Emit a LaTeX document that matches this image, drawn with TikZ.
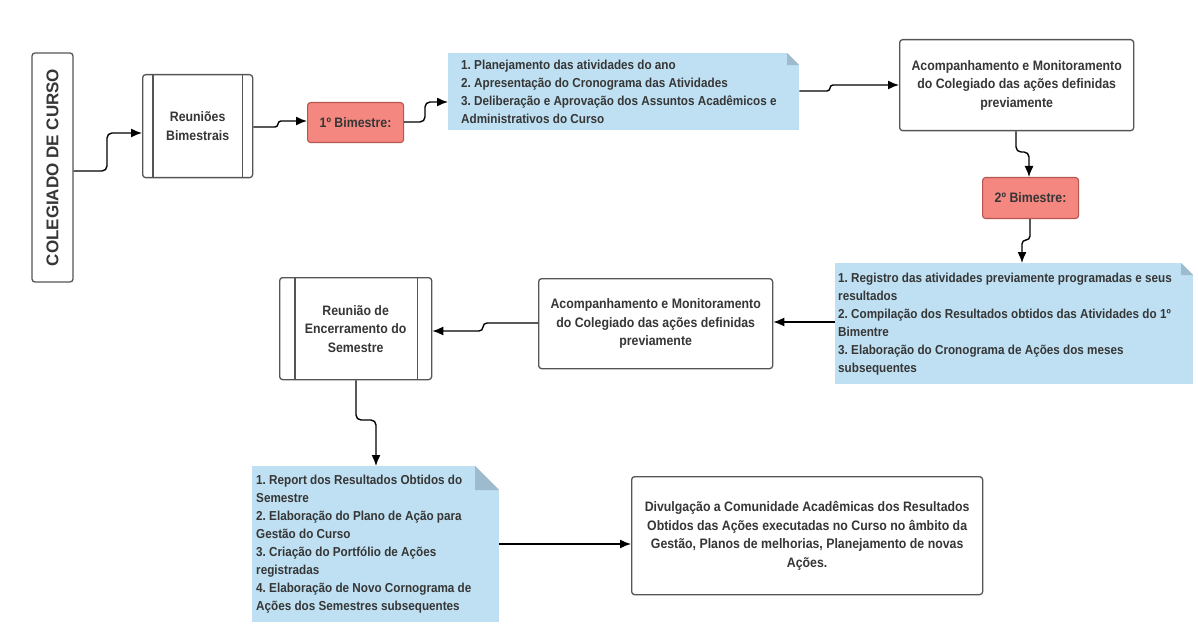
\documentclass[tikz,border=0pt]{standalone}
\usepackage{fontspec}
\setmainfont{Liberation Sans}[FakeStretch=0.9]
\newfontfamily\colfont{Liberation Sans}
\usepackage{tikz}
\usetikzlibrary{arrows.meta}
\usetikzlibrary{calc}
\usetikzlibrary{positioning}
\frenchspacing

\definecolor{notefill}{HTML}{BEE0F2}
\definecolor{foldfill}{HTML}{9DBBCC}
\definecolor{bimfill}{HTML}{F4877F}
\definecolor{bimline}{HTML}{B5564F}
\definecolor{boxline}{HTML}{555555}
\definecolor{txt}{HTML}{363636}

\begin{document}
\begin{tikzpicture}[
  x=1pt, y=-1pt,
  > = {Latex[length=11pt,width=9pt]},
  every node/.style = {font=\fontsize{13}{18}\selectfont\bfseries, text=txt, inner sep=0pt},
  proc/.style = {draw=boxline, line width=1.3pt, rounded corners=3pt, fill=white, align=center, anchor=north west,
    font=\fontsize{13.7}{18.5}\selectfont\bfseries},
  bim/.style = {draw=bimline, line width=1.1pt, rounded corners=3pt, fill=bimfill, align=center, anchor=north west,
    font=\fontsize{13.7}{18.5}\selectfont\bfseries},
  note/.style = {fill=notefill, align=flush left, anchor=north west,
    path picture={
      \fill[white] ([xshift=-#1]path picture bounding box.north east) -- (path picture bounding box.north east)
        -- ([yshift=-#1]path picture bounding box.north east) -- cycle;
      \fill[foldfill] ([xshift=-#1]path picture bounding box.north east) |- ([yshift=-#1]path picture bounding box.north east) -- cycle;}},
  note/.default = 12pt,
  flow/.style = {->, line width=1.4pt, rounded corners=5pt}
  ]
	\useasboundingbox (0,0) rectangle (1198,644);

	% first row
	\node[proc, anchor=center, rotate=90, minimum width=229, minimum height=41] (col) at (52.5,167.5)
		{\colfont\fontsize{17}{20}\selectfont\bfseries COLEGIADO DE CURSO};
	\node[proc, minimum width=110, minimum height=103] (reu) at (142,74) {Reuniões\\Bimestrais};
	\node[bim, minimum width=96, minimum height=40] (bim1) at (307,102) {1º Bimestre:};
	\node[note, inner xsep=13pt, text width=325pt, minimum height=77] (n1) at (448,53)
		{1. Planejamento das atividades do ano\\
		2. Apresentação do Cronograma das Atividades\\
		3. Deliberação e Aprovação dos Assuntos Acadêmicos e\\
		Administrativos do Curso};
	\node[proc, minimum width=234, minimum height=91] (ac1) at (899,39)
		{Acompanhamento e Monitoramento\\do Colegiado das ações definidas\\previamente};

	% right column
	\node[bim, minimum width=96, minimum height=41] (bim2) at (982,177) {2º Bimestre:};
	\node[note, inner xsep=3pt, text width=352pt, minimum height=121] (n2) at (835,263)
		{1. Registro das atividades previamente programadas e seus\\
		resultados\\
		2. Compilação dos Resultados obtidos das Atividades do 1º\\
		Bimentre\\
		3. Elaboração do Cronograma de Ações dos meses\\
		subsequentes};

	% second row
	\node[proc, minimum width=234, minimum height=90] (ac2) at (538,278)
		{Acompanhamento e Monitoramento\\do Colegiado das ações definidas\\previamente};
	\node[proc, minimum width=152, minimum height=102] (reu2) at (279,277)
		{Reunião de\\Encerramento do\\Semestre};

	% last row
	\node[note=24pt, inner xsep=4pt, text width=239pt, minimum height=156] (n3) at (252,466)
		{1. Report dos Resultados Obtidos do\\
		Semestre\\
		2. Elaboração do Plano de Ação para\\
		Gestão do Curso\\
		3. Criação do Portfólio de Ações\\
		registradas\\
		4. Elaboração de Novo Cornograma de\\
		Ações dos Semestres subsequentes};
	\node[proc, minimum width=351, minimum height=118] (div) at (631,476)
		{Divulgação a Comunidade Acadêmicas dos Resultados\\
		Obtidos das Ações executadas no Curso no âmbito da\\
		Gestão, Planos de melhorias, Planejamento de novas\\
		Ações.};

	% side bars of the subprocess boxes
	\draw[boxline, line width=1.3pt] ([xshift=11pt]reu.north west) -- ([xshift=11pt]reu.south west);
	\draw[boxline, line width=1.3pt] ([xshift=-11pt]reu.north east) -- ([xshift=-11pt]reu.south east);
	\draw[boxline, line width=1.3pt] ([xshift=16pt]reu2.north west) -- ([xshift=16pt]reu2.south west);
	\draw[boxline, line width=1.3pt] ([xshift=-15pt]reu2.north east) -- ([xshift=-15pt]reu2.south east);

	% connectors
	\draw[flow] (col.south |- 0,171) -- (107,171) -- (107,133) -- (reu.west |- 0,133);
	\draw[flow, rounded corners=3pt] (reu.east |- 0,127) -- (278,127) -- (278,121) -- (bim1.west |- 0,121);
	\draw[flow] (bim1.east |- 0,122) -- (425,122) -- (425,102) -- (n1.west |- 0,102);
	\draw[flow, rounded corners=3pt] (n1.east |- 0,91) -- (830,91) -- (830,85) -- (ac1.west |- 0,85);
	\draw[flow] (ac1.south -| 1016,0) -- (1016,152) -- (1029,152) -- (bim2.north -| 1029,0);
	\draw[flow, rounded corners=4pt] (bim2.south -| 1030,0) -- (1030,240) -- (1022,240) -- (n2.north -| 1022,0);
	\draw[flow] (n2.west |- 0,322) -- (ac2.east |- 0,322);
	\draw[flow, rounded corners=4pt] (ac2.west |- 0,323) -- (483,323) -- (483,331) -- (reu2.east |- 0,331);
	\draw[flow] (reu2.south -| 356,0) -- (356,420) -- (376,420) -- (n3.north -| 376,0);
	\draw[flow] (n3.east |- 0,544) -- (div.west |- 0,544);

\end{tikzpicture}
\end{document}
